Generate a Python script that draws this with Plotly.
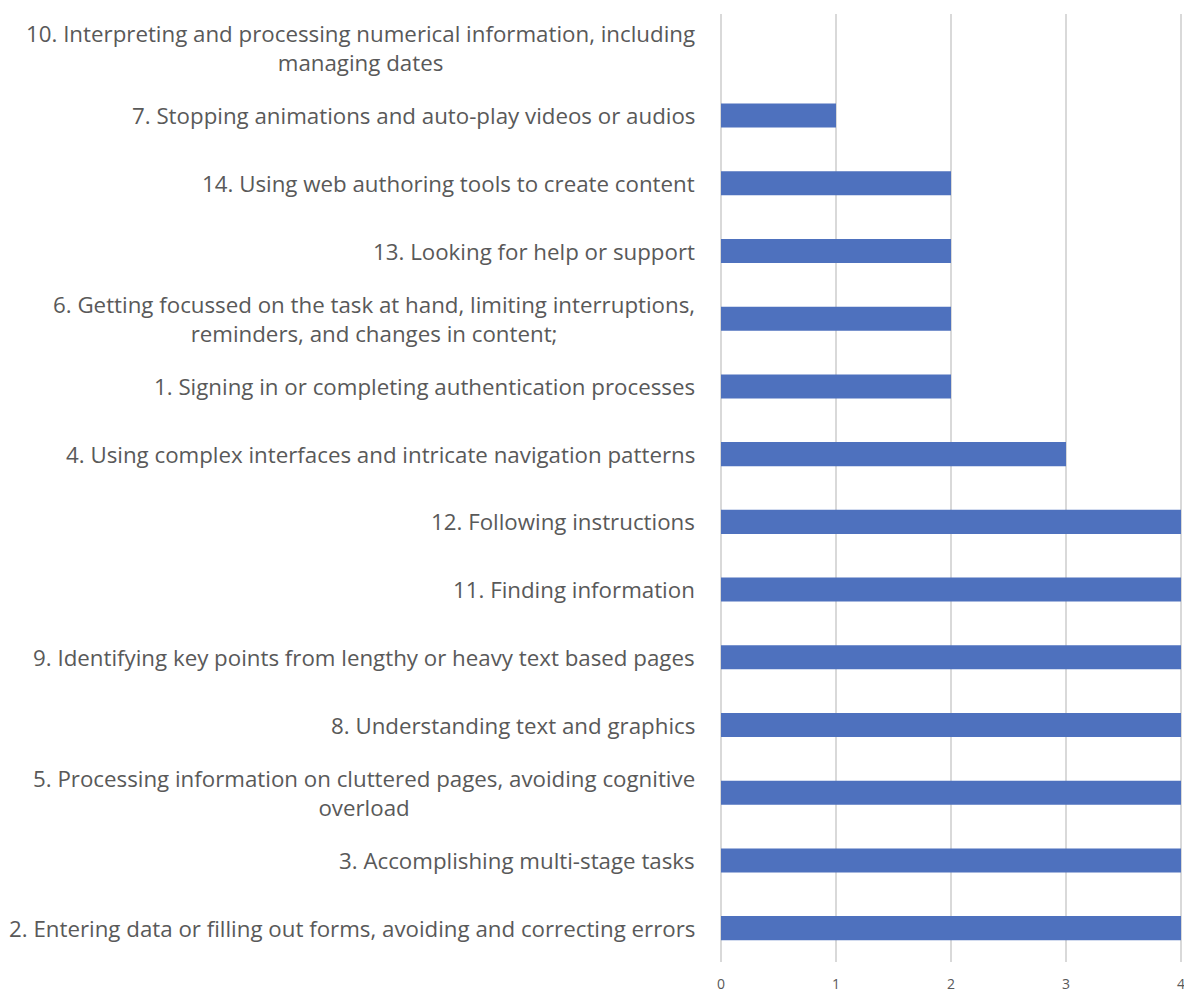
import plotly.graph_objects as go

categories = [
    "10. Interpreting and processing numerical information, including<br>managing dates",
    "7. Stopping animations and auto-play videos or audios",
    "14. Using web authoring tools to create content",
    "13. Looking for help or support",
    "6. Getting focussed on the task at hand, limiting interruptions,<br>reminders, and changes in content;",
    "1. Signing in or completing authentication processes",
    "4. Using complex interfaces and intricate navigation patterns",
    "12. Following instructions",
    "11. Finding information",
    "9. Identifying key points from lengthy or heavy text based pages",
    "8. Understanding text and graphics",
    "5. Processing information on cluttered pages, avoiding cognitive<br>overload",
    "3. Accomplishing multi-stage tasks",
    "2. Entering data or filling out forms, avoiding and correcting errors",
]
values = [0, 1, 2, 2, 2, 2, 3, 4, 4, 4, 4, 4, 4, 4]
x_ticks = [0, 1, 2, 3, 4]

fig = go.Figure(go.Bar(
    y=categories, x=values, orientation="h",
    marker=dict(color="#4E71BE", line=dict(width=0)),
    hoverinfo="skip",
))

for c in categories:
    fig.add_annotation(
        x=-0.052, xref="paper", y=c, yref="y", text=c,
        showarrow=False, xanchor="right", yanchor="middle", align="center",
        font=dict(family="Open Sans", size=22.3, color="#595959"),
    )

fig.update_layout(
    width=1184, height=994,
    margin=dict(l=721, r=0, t=14, b=32),
    plot_bgcolor="white", paper_bgcolor="white",
    bargap=0.645, showlegend=False,
    xaxis=dict(range=[0, 4.026], tickvals=x_ticks, showgrid=True, gridcolor="#D9D9D9",
               gridwidth=1.5, zeroline=True, zerolinecolor="#D9D9D9", zerolinewidth=1.5,
               tickfont=dict(family="Open Sans", size=14, color="#595959"),
               ticks="outside", ticklen=9, tickcolor="rgba(0,0,0,0)",
               ticklabeloverflow="allow", automargin=False),
    yaxis=dict(autorange="reversed", showticklabels=False, showgrid=False, zeroline=False),
)
fig.write_html("out.html")
